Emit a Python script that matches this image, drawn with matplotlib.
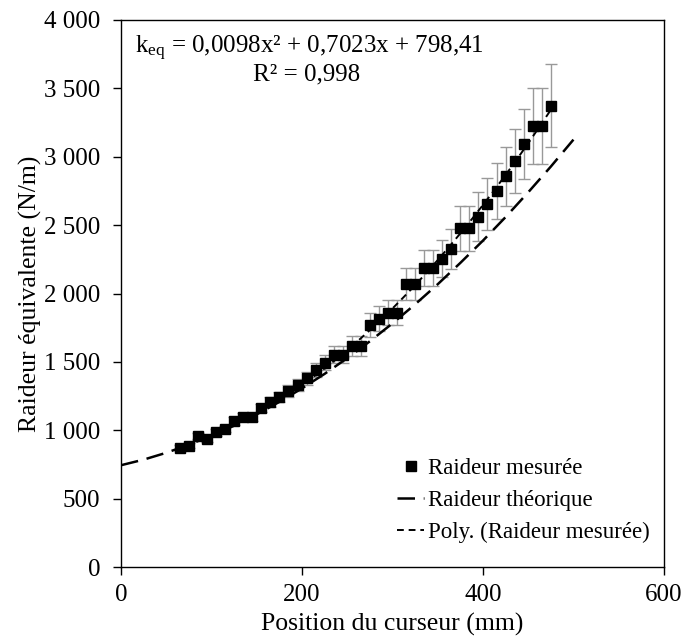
import numpy as np
import matplotlib
matplotlib.use("Agg")
import matplotlib.pyplot as plt
from matplotlib.ticker import FuncFormatter

plt.rcParams['font.family'] = ['Liberation Serif', 'DejaVu Serif']
plt.rcParams['mathtext.fontset'] = 'custom'
plt.rcParams['mathtext.rm'] = 'Liberation Serif'
plt.rcParams['mathtext.it'] = 'Liberation Serif:italic'

# measured stiffness vs cursor position
pos_mm = [65, 75, 85, 95, 105, 115, 125, 135, 145, 155, 165, 175, 185, 195,
          205, 215, 225, 235, 245, 255, 265, 275, 285, 295, 305, 315, 325,
          335, 345, 355, 365, 375, 385, 395, 405, 415, 425, 435, 445, 455,
          465, 475]
k_meas = [870, 888, 955, 935, 985, 1010, 1068, 1097, 1097, 1163, 1207, 1245,
          1287, 1333, 1382, 1440, 1494, 1554, 1554, 1616, 1616, 1773, 1816,
          1861, 1861, 2067, 2067, 2186, 2186, 2255, 2323, 2477, 2477, 2562,
          2652, 2750, 2857, 2969, 3091, 3227, 3227, 3373]
k_err = [20, 20, 22, 22, 24, 25, 27, 28, 29, 32, 35, 38, 41, 44, 48, 52, 56,
         62, 62, 73, 73, 88, 90, 93, 93, 117, 117, 132, 132, 137, 146, 165,
         165, 178, 190, 203, 216, 234, 256, 278, 278, 305]

# theoretical curve
theo_x = [0, 25, 50, 75, 100, 125, 150, 175, 200, 225, 250, 275, 300, 325,
          350, 375, 400, 425, 450, 475, 500]
theo_k = [745, 786, 836, 895, 961, 1034, 1117, 1208, 1307, 1413, 1528, 1651,
          1782, 1921, 2068, 2224, 2387, 2559, 2740, 2928, 3125]

# trendline coefficients shown on the chart
POLY_COEFFS = [0.0098, 0.7023, 798.41]

fig, ax = plt.subplots(figsize=(6.88, 6.43), dpi=100)
fig.subplots_adjust(left=0.176, right=0.965, bottom=0.118, top=0.969)

ax.errorbar(pos_mm, k_meas, yerr=k_err, fmt='none', ecolor='#999999',
            elinewidth=1.0, capsize=4, capthick=1.0, zorder=2)
ax.plot(pos_mm, k_meas, 's', color='black', markersize=7, zorder=4,
        label='Raideur mesurée')
ax.plot(theo_x, theo_k, color='black', lw=1.8, dashes=(7, 3.5), zorder=3,
        label='Raideur théorique')
xp = np.linspace(pos_mm[0], pos_mm[-1], 200)
ax.plot(xp, np.polyval(POLY_COEFFS, xp), color='black', lw=1.4,
        dashes=(3.5, 2.5), zorder=3, label='Poly. (Raideur mesurée)')

ax.set_xlim(0, 600)
ax.set_ylim(0, 4000)
ax.set_xticks([0, 200, 400, 600])
ax.set_yticks(np.arange(0, 4001, 500))
ax.yaxis.set_major_formatter(FuncFormatter(lambda v, p: f"{int(v):,}".replace(",", " ")))
ax.tick_params(labelsize=18, direction='out', length=6, width=1)
ax.tick_params(axis='y', pad=9)
ax.tick_params(axis='x', pad=6)
for s in ax.spines.values():
    s.set_linewidth(1.0)

ax.set_xlabel("Position du curseur (mm)", fontsize=18.5, labelpad=5)
ax.set_ylabel("Raideur équivalente (N/m)", fontsize=18.5, labelpad=1.5)

ax.text(15, 3795, r"k$_{\mathrm{eq}}$ = 0,0098x² + 0,7023x + 798,41",
        fontsize=18, ha='left', va='center')
ax.text(205, 3598, "R² = 0,998", fontsize=18, ha='center', va='center')

ax.legend(loc='lower right', frameon=False, fontsize=16.5, handlelength=1.2,
          handletextpad=0.15, labelspacing=0.48, borderaxespad=0.3,
          bbox_to_anchor=(1.003, 0.015))

fig.savefig("out.png")
